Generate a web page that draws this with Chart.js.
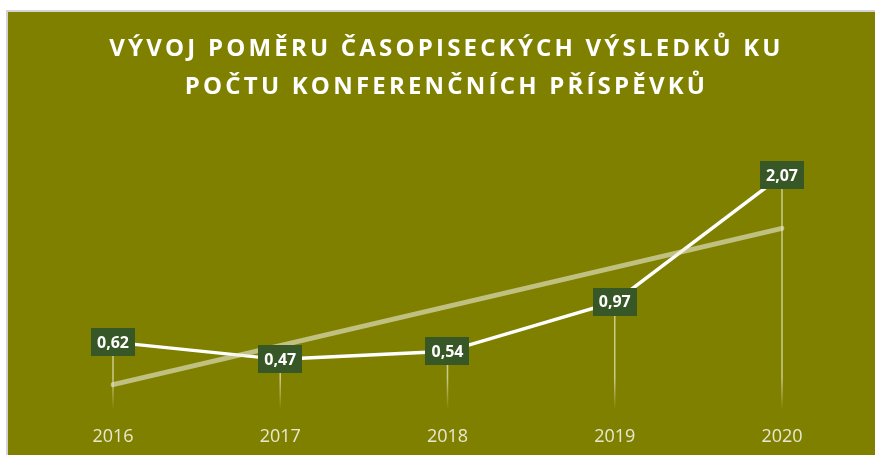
<!DOCTYPE html>
<html>
<head>
<meta charset="utf-8">
<script src="https://cdn.jsdelivr.net/npm/chart.js@4.4.0/dist/chart.umd.min.js"></script>
<style>
  body { margin: 0; background: #fff; }
  #frame {
    position: absolute; left: 6px; top: 10px;
    width: 867px; height: 443px;
    border-top: 2px solid #d3d3d3; border-left: 2px solid #d3d3d3;
    background: #808000;
  }
  #wrap { position: relative; width: 867px; height: 443px; }
</style>
</head>
<body>
<div id="frame"><div id="wrap"><canvas id="myChart"></canvas></div></div>
<script>
// data
var years = ["2016", "2017", "2018", "2019", "2020"];
var ratio = [0.62, 0.47, 0.54, 0.97, 2.07];
var trendEnds = [0.25, null, null, null, 1.61];
var titleLines = ["VÝVOJ POMĚRU ČASOPISECKÝCH VÝSLEDKŮ KU", "POČTU KONFERENČNÍCH PŘÍSPĚVKŮ"];

var decor = {
  id: "decor",
  beforeDatasetsDraw: function(chart) {
    var ctx = chart.ctx, area = chart.chartArea;
    var meta = chart.getDatasetMeta(0);
    ctx.save();
    meta.data.forEach(function(pt) {
      var g = ctx.createLinearGradient(0, area.bottom - 35, 0, area.bottom - 4);
      g.addColorStop(0, "rgba(235,235,200,0.7)");
      g.addColorStop(1, "rgba(235,235,200,0)");
      ctx.strokeStyle = g;
      ctx.lineWidth = 1.5;
      ctx.beginPath();
      ctx.moveTo(pt.x, pt.y);
      ctx.lineTo(pt.x, area.bottom);
      ctx.stroke();
    });
    ctx.restore();
  },
  afterDatasetsDraw: function(chart) {
    var ctx = chart.ctx;
    var meta = chart.getDatasetMeta(0);
    ctx.save();
    ctx.font = "bold 16px 'Open Sans'";
    ctx.textAlign = "center";
    ctx.textBaseline = "middle";
    meta.data.forEach(function(pt, i) {
      var txt = ratio[i].toFixed(2).replace(".", ",");
      var w = ctx.measureText(txt).width + 12, h = 28;
      ctx.fillStyle = "#385726";
      ctx.fillRect(Math.round(pt.x - w / 2), Math.round(pt.y - h / 2), Math.round(w), h);
      ctx.fillStyle = "#ffffff";
      ctx.fillText(txt, pt.x, pt.y + 1);
    });
    ctx.restore();
  },
  afterDraw: function(chart) {
    var ctx = chart.ctx;
    ctx.save();
    ctx.font = "bold 24px 'Open Sans'";
    ctx.letterSpacing = "3.2px";
    ctx.fillStyle = "#ffffff";
    ctx.textAlign = "center";
    ctx.textBaseline = "middle";
    titleLines.forEach(function(line, i) {
      ctx.fillText(line, chart.width / 2 + 5, 37 + i * 38);
    });
    ctx.restore();
  }
};

new Chart("myChart", {
  type: "line",
  data: {
    labels: years,
    datasets: [{
      data: ratio,
      borderColor: "#ffffff",
      borderWidth: 3.5,
      pointRadius: 0,
      tension: 0,
      order: 1
    }, {
      data: trendEnds,
      spanGaps: true,
      borderColor: "rgba(235,235,215,0.6)",
      borderWidth: 5,
      borderCapStyle: "round",
      pointRadius: 0,
      order: 0
    }]
  },
  options: {
    responsive: true,
    maintainAspectRatio: false,
    animation: false,
    layout: { padding: { left: 105, right: 93, top: 114, bottom: -6 } },
    plugins: {
      legend: { display: false },
      tooltip: { enabled: false }
    },
    scales: {
      x: {
        grid: { display: false, drawTicks: false },
        border: { display: false },
        ticks: {
          color: "#e8e8d2",
          padding: 13,
          font: { family: "'Open Sans'", size: 18 }
        }
      },
      y: { display: false, min: 0, max: 2.5 }
    }
  },
  plugins: [decor]
});
</script>
</body>
</html>
